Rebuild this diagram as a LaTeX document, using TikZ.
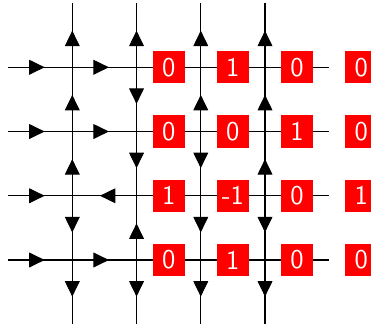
\documentclass[tikz,border=0pt]{standalone}
\usepackage{amsmath,amssymb,tikz,xcolor}
\usetikzlibrary{arrows.meta,decorations.markings}

\tikzset{
    edge/.style={draw=black,line width=0.5pt},
    flow/.style={postaction={decorate},
        decoration={markings,mark=at position 0.57 with {\arrow{Triangle[length=2.4mm,width=2.3mm]}}}},
    cellbox/.style={fill=red,text=white,minimum size=0.5cm,inner sep=0pt,font=\sffamily\large}
}

\begin{document}
\begin{tikzpicture}
                \useasboundingbox (-0.125,0.047) rectangle (5.65,-5.016);
                % lattice points
                \foreach \i in {0,...,5}
                    \foreach \j in {0,...,5}
                        \coordinate (p-\i-\j) at (\i,-\j);
                % rows and columns
                \draw[edge] (p-0-1) -- (p-5-1);
                \draw[edge] (p-0-2) -- (p-5-2);
                \draw[edge] (p-0-3) -- (p-5-3);
                \draw[edge] (p-0-4) -- (p-5-4);
                \draw[edge] (p-1-0) -- (p-1-5);
                \draw[edge] (p-2-0) -- (p-2-5);
                \draw[edge] (p-3-0) -- (p-3-5);
                \draw[edge] (p-4-0) -- (p-4-5);
                % horizontal arrows
                \path[flow] (p-0-1) -- (p-1-1);
                \path[flow] (p-1-1) -- (p-2-1);
                \path[flow] (p-0-2) -- (p-1-2);
                \path[flow] (p-1-2) -- (p-2-2);
                \path[flow] (p-0-3) -- (p-1-3);
                \path[flow] (p-2-3) -- (p-1-3);
                \path[flow] (p-0-4) -- (p-1-4);
                \path[flow] (p-1-4) -- (p-2-4);
                % vertical arrows, column 1
                \path[flow] (p-1-1) -- (p-1-0);
                \path[flow] (p-1-2) -- (p-1-1);
                \path[flow] (p-1-3) -- (p-1-2);
                \path[flow] (p-1-3) -- (p-1-4);
                \path[flow] (p-1-4) -- (p-1-5);
                % column 2
                \path[flow] (p-2-1) -- (p-2-0);
                \path[flow] (p-2-1) -- (p-2-2);
                \path[flow] (p-2-2) -- (p-2-3);
                \path[flow] (p-2-4) -- (p-2-3);
                \path[flow] (p-2-4) -- (p-2-5);
                % column 3
                \path[flow] (p-3-1) -- (p-3-0);
                \path[flow] (p-3-2) -- (p-3-1);
                \path[flow] (p-3-2) -- (p-3-3);
                \path[flow] (p-3-3) -- (p-3-4);
                \path[flow] (p-3-4) -- (p-3-5);
                % column 4
                \path[flow] (p-4-1) -- (p-4-0);
                \path[flow] (p-4-2) -- (p-4-1);
                \path[flow] (p-4-3) -- (p-4-2);
                \path[flow] (p-4-3) -- (p-4-4);
                \path[flow] (p-4-4) -- (p-4-5);
                % values
                \node[cellbox] (v-1-1) at (2.5,-1) {0};
                \node[cellbox] (v-2-1) at (3.5,-1) {1};
                \node[cellbox] (v-3-1) at (4.5,-1) {0};
                \node[cellbox] (v-4-1) at (5.5,-1) {0};
                \node[cellbox] (v-1-2) at (2.5,-2) {0};
                \node[cellbox] (v-2-2) at (3.5,-2) {0};
                \node[cellbox] (v-3-2) at (4.5,-2) {1};
                \node[cellbox] (v-4-2) at (5.5,-2) {0};
                \node[cellbox] (v-1-3) at (2.5,-3) {1};
                \node[cellbox] (v-2-3) at (3.5,-3) {-1};
                \node[cellbox] (v-3-3) at (4.5,-3) {0};
                \node[cellbox] (v-4-3) at (5.5,-3) {1};
                \node[cellbox] (v-1-4) at (2.5,-4) {0};
                \node[cellbox] (v-2-4) at (3.5,-4) {1};
                \node[cellbox] (v-3-4) at (4.5,-4) {0};
                \node[cellbox] (v-4-4) at (5.5,-4) {0};
            \end{tikzpicture}
\end{document}
